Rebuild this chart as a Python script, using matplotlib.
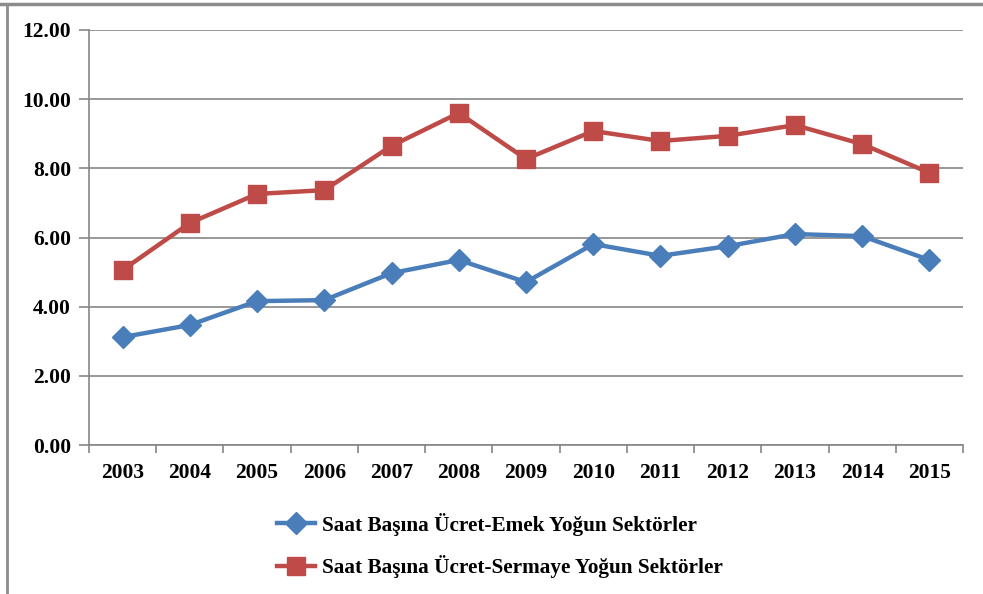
import matplotlib.pyplot as plt
from matplotlib.lines import Line2D
import numpy as np

years = ["2003", "2004", "2005", "2006", "2007", "2008", "2009",
         "2010", "2011", "2012", "2013", "2014", "2015"]
emek = [3.12, 3.47, 4.16, 4.19, 4.97, 5.35, 4.71, 5.81, 5.47, 5.75, 6.10, 6.04, 5.35]
sermaye = [5.06, 6.42, 7.26, 7.37, 8.65, 9.60, 8.27, 9.08, 8.79, 8.94, 9.25, 8.70, 7.87]
labels = ["Saat Başına Ücret-Emek Yoğun Sektörler",
          "Saat Başına Ücret-Sermaye Yoğun Sektörler"]

plt.rcParams["font.family"] = ["Liberation Serif", "DejaVu Serif"]
plt.rcParams["font.weight"] = "bold"

fig = plt.figure(figsize=(9.83, 5.94), dpi=100, facecolor="white")
ax = fig.add_axes([0.0905, 0.2508, 0.8892, 0.6987])

x = np.arange(len(years))
ax.plot(x, emek, color="#4A7EBB", lw=3.2, marker="D", ms=11, label=labels[0])
ax.plot(x, sermaye, color="#BE4B48", lw=3.2, marker="s", ms=13, label=labels[1])

ax.set_xlim(-0.5, len(years) - 0.5)
ax.set_ylim(0, 12)
ax.set_yticks(np.arange(0, 12.01, 2))
ax.set_yticklabels([f"{v:.2f}" for v in np.arange(0, 12.01, 2)], fontsize=15.5, fontweight="bold")
ax.yaxis.grid(True, color="#868686", lw=1.2)
ax.set_axisbelow(True)

# year labels centered, tick marks between categories
ax.set_xticks(x)
ax.set_xticklabels(years, fontsize=15.5, fontweight="bold")
ax.set_xticks(np.arange(-0.5, len(years)), minor=True)
ax.tick_params(axis="x", which="major", length=0, pad=13)
ax.tick_params(axis="x", which="minor", length=6, color="#868686", width=1.2)
ax.tick_params(axis="y", length=7, color="#868686", width=1.2, pad=6)

for s in ["top", "right"]:
    ax.spines[s].set_visible(False)
for s in ["left", "bottom"]:
    ax.spines[s].set_color("#868686")
    ax.spines[s].set_linewidth(1.2)

ax.legend(loc="upper left", bbox_to_anchor=(0.282, 0.137), bbox_transform=fig.transFigure,
          frameon=False, fontsize=15.3, handlelength=1.8, handletextpad=0.3,
          labelspacing=0.92, borderaxespad=0, borderpad=0)

# outer frame of the picture
fig.add_artist(Line2D([0, 1], [0.994, 0.994], transform=fig.transFigure, color="#8c8c8c", lw=2.5))
fig.add_artist(Line2D([0.007, 0.007], [0, 0.994], transform=fig.transFigure, color="#8c8c8c", lw=2))

fig.savefig("out.png", dpi=100, facecolor="white")
